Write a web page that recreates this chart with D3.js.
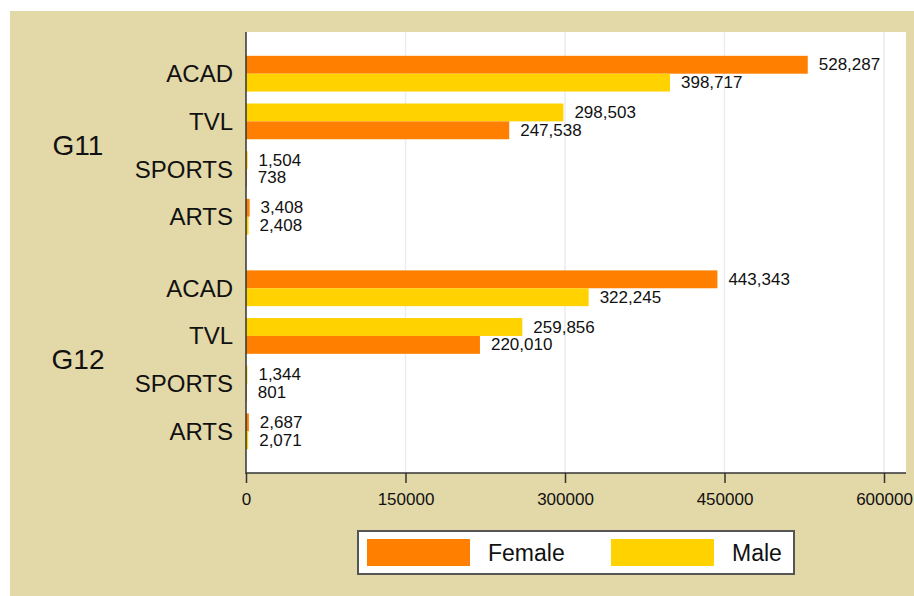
<!DOCTYPE html>
<html>
<head>
<meta charset="utf-8">
<script src="https://cdn.jsdelivr.net/npm/d3@7"></script>
<style>
  html, body { margin: 0; padding: 0; background: #ffffff; }
  svg { display: block; font-family: "Liberation Sans", Arial, sans-serif; }
</style>
</head>
<body>
<svg id="chart" width="914" height="596"></svg>
<script>
// ---- data ----
const groups = ["G11", "G12"];
const strands = ["ACAD", "TVL", "SPORTS", "ARTS"];
const sexes = ["Female", "Male"];
const femaleG11 = [528287, 247538, 738, 3408];
const maleG11   = [398717, 298503, 1504, 2408];
const femaleG12 = [443343, 220010, 801, 2687];
const maleG12   = [322245, 259856, 1344, 2071];
const xTicks = [0, 150000, 300000, 450000, 600000];

const colors = { Female: "#FF7F00", Male: "#FFD200" };
const seriesByGroup = {
  G11: { Female: femaleG11, Male: maleG11 },
  G12: { Female: femaleG12, Male: maleG12 }
};

// build rows
const rows = [];
groups.forEach(g => {
  strands.forEach((s, i) => {
    const items = sexes.map(sex => ({ group: g, strand: s, sex, value: seriesByGroup[g][sex][i] }));
    items.sort((a, b) => b.value - a.value);
    items.forEach((d, k) => { d.slot = k; rows.push(d); });
  });
});

const svg = d3.select("#chart");
const W = 914, H = 596;

// background panel
svg.append("rect").attr("x", 10).attr("y", 11).attr("width", W - 10).attr("height", H - 11).attr("fill", "#E3D8A7");

const plot = { left: 246, right: 906, top: 32, bottom: 473 };
svg.append("rect").attr("x", plot.left).attr("y", plot.top)
  .attr("width", plot.right - plot.left).attr("height", plot.bottom - plot.top).attr("fill", "#ffffff");

const x = d3.scaleLinear().domain([0, 600000]).range([246, 884]);
const yGroup = d3.scaleBand().domain(groups).range([plot.top, plot.bottom]).paddingInner(1 / 6).paddingOuter(0.111);
const yStrand = d3.scaleBand().domain(strands).range([0, yGroup.bandwidth()]).paddingInner(0.25);
const ySlot = d3.scaleBand().domain([0, 1]).range([0, yStrand.bandwidth()]);

// gridlines
svg.append("g").selectAll("line").data(xTicks.slice(1)).join("line")
  .attr("x1", d => x(d)).attr("x2", d => x(d))
  .attr("y1", plot.top).attr("y2", plot.bottom)
  .attr("stroke", "#E6EEF1").attr("stroke-width", 1.5);

// bars
const yOf = d => yGroup(d.group) + yStrand(d.strand) + ySlot(d.slot);
svg.append("g").selectAll("rect").data(rows).join("rect")
  .attr("x", x(0))
  .attr("y", yOf)
  .attr("width", d => Math.max(0.8, x(d.value) - x(0)))
  .attr("height", ySlot.bandwidth())
  .attr("fill", d => colors[d.sex]);

// value labels
const fmt = d3.format(",");
svg.append("g").selectAll("text").data(rows).join("text")
  .attr("x", d => x(d.value) + 11)
  .attr("y", d => yOf(d) + ySlot.bandwidth() / 2)
  .attr("dominant-baseline", "central")
  .attr("font-size", 17)
  .attr("fill", "#111")
  .text(d => fmt(d.value));

// y axis line
svg.append("line").attr("x1", plot.left).attr("x2", plot.left)
  .attr("y1", plot.top).attr("y2", plot.bottom + 1)
  .attr("stroke", "#333").attr("stroke-width", 1.5);

// strand labels
const strandRows = [];
groups.forEach(g => strands.forEach(s => strandRows.push({ g, s })));
svg.append("g").selectAll("text").data(strandRows).join("text")
  .attr("x", 233)
  .attr("y", d => yGroup(d.g) + yStrand(d.s) + yStrand.bandwidth() / 2)
  .attr("text-anchor", "end")
  .attr("dominant-baseline", "central")
  .attr("font-size", 24)
  .attr("fill", "#111")
  .text(d => d.s);

// group labels
svg.append("g").selectAll("text").data(groups).join("text")
  .attr("x", 78)
  .attr("y", d => yGroup(d) + yGroup.bandwidth() / 2)
  .attr("text-anchor", "middle")
  .attr("dominant-baseline", "central")
  .attr("font-size", 28)
  .attr("fill", "#111")
  .text(d => d);

// x axis
const xAxis = d3.axisBottom(x).tickValues(xTicks).tickSize(10).tickPadding(10).tickFormat(d3.format("d"));
const gx = svg.append("g").attr("transform", `translate(0,${plot.bottom})`).call(xAxis);
gx.select(".domain").remove();
gx.selectAll(".tick line").attr("stroke", "#333").attr("stroke-width", 1.5);
gx.selectAll(".tick text").attr("font-size", 17).attr("fill", "#111").attr("font-family", "Liberation Sans, Arial, sans-serif");
svg.append("line").attr("x1", plot.left).attr("x2", plot.right)
  .attr("y1", plot.bottom).attr("y2", plot.bottom)
  .attr("stroke", "#333").attr("stroke-width", 1.5);

// legend
const lg = svg.append("g");
lg.append("rect").attr("x", 358).attr("y", 531).attr("width", 436).attr("height", 43)
  .attr("fill", "#fff").attr("stroke", "#555").attr("stroke-width", 2);
const legendItems = [
  { sex: "Female", sx: 367, tx: 488 },
  { sex: "Male", sx: 611, tx: 732 }
];
lg.selectAll("rect.sw").data(legendItems).join("rect").attr("class", "sw")
  .attr("x", d => d.sx).attr("y", 539).attr("width", 103).attr("height", 27)
  .attr("fill", d => colors[d.sex]);
lg.selectAll("text").data(legendItems).join("text")
  .attr("x", d => d.tx).attr("y", 553)
  .attr("dominant-baseline", "central")
  .attr("font-size", 23).attr("fill", "#111")
  .text(d => d.sex);
</script>
</body>
</html>
